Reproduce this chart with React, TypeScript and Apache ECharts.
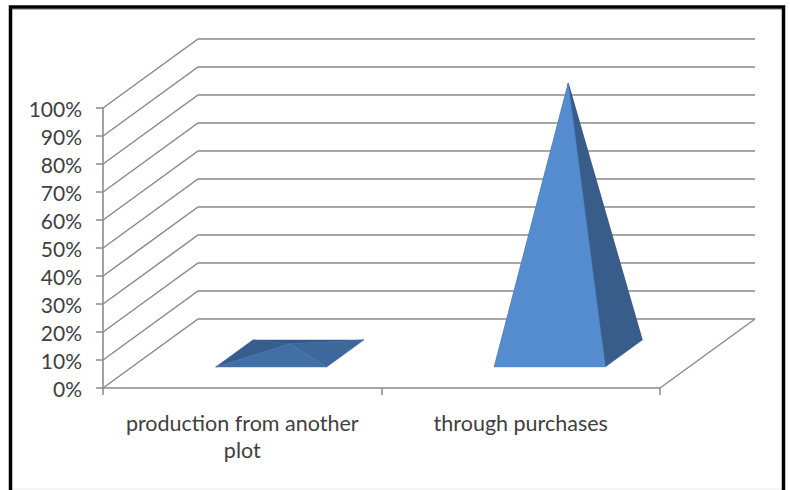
import React, { useEffect, useRef } from "react";
import * as echarts from "echarts";

// Share of each source, in percent.
const categories = ["production from another plot", "through purchases"];
const shares = [3.5, 96.5];
const yTicks = [0, 10, 20, 30, 40, 50, 60, 70, 80, 90, 100];

// Oblique projection of the floor: how far the back wall sits from the front edge.
const DEPTH_X = 95;
const DEPTH_Y = -69;
// Pyramid footprint.
const BASE_HALF_WIDTH = 55.5;
const BASE_DEPTH = 0.39;

const GRID_STROKE = "#8a8a8a";
const TEXT = "#404040";

// Face shades: back, left, right, front. The flat pyramid is lit from above.
const faceShades = [
  ["#33588a", "#365d8c", "#3e689c", "#426fa6"],
  ["#33588a", "#365d8c", "#385d8a", "#558bcf"],
];

function renderWall(params: any, api: any) {
  const v = api.value(1);
  const sys = params.coordSys;
  const y = api.coord([0, v])[1];
  const left = sys.x;
  const right = sys.x + sys.width;
  const children: any[] = [
    {
      type: "polyline",
      shape: {
        points: [
          [left, y],
          [left + DEPTH_X, y + DEPTH_Y],
          [right + DEPTH_X, y + DEPTH_Y],
        ],
      },
      style: { fill: "none", stroke: GRID_STROKE, lineWidth: 1.5 },
    },
  ];
  if (v === 0) {
    // Right-hand edge of the floor.
    children.push({
      type: "line",
      shape: { x1: right, y1: y, x2: right + DEPTH_X, y2: y + DEPTH_Y },
      style: { stroke: GRID_STROKE, lineWidth: 1.5 },
    });
  }
  return { type: "group", children };
}

function renderPyramid(params: any, api: any) {
  const idx = api.value(0);
  const [cx, floorY] = api.coord([idx, 0]);
  const topY = api.coord([idx, api.value(1)])[1];

  // Centre of the footprint lies halfway down the floor's depth.
  const midX = cx + DEPTH_X / 2;
  const midY = floorY + DEPTH_Y / 2;
  const halfDx = (DEPTH_X * BASE_DEPTH) / 2;
  const halfDy = (DEPTH_Y * BASE_DEPTH) / 2;

  const frontLeft = [midX - BASE_HALF_WIDTH - halfDx, midY - halfDy];
  const frontRight = [midX + BASE_HALF_WIDTH - halfDx, midY - halfDy];
  const backRight = [midX + BASE_HALF_WIDTH + halfDx, midY + halfDy];
  const backLeft = [midX - BASE_HALF_WIDTH + halfDx, midY + halfDy];
  const apex = [midX, midY - (floorY - topY)];

  const shades = faceShades[idx];
  const face = (a: number[], b: number[], fill: string) => ({
    type: "polygon",
    shape: { points: [a, b, apex] },
    style: { fill, stroke: fill, lineWidth: 0.5 },
  });
  return {
    type: "group",
    children: [
      face(backLeft, backRight, shades[0]),
      face(frontLeft, backLeft, shades[1]),
      face(frontRight, backRight, shades[2]),
      face(frontLeft, frontRight, shades[3]),
    ],
  };
}

export default function App() {
  const ref = useRef<HTMLDivElement>(null);

  useEffect(() => {
    const chart = echarts.init(ref.current!, null, { renderer: "svg" });
    chart.setOption({
      animation: false,
      backgroundColor: "#ffffff",
      textStyle: { fontFamily: "Lato" },
      grid: { left: 103, top: 108, width: 557, height: 280 },
      xAxis: {
        type: "category",
        data: categories,
        boundaryGap: true,
        axisLine: { lineStyle: { color: GRID_STROKE, width: 1.5 } },
        axisTick: { show: true, length: 7, alignWithLabel: false, lineStyle: { color: GRID_STROKE, width: 1.5 } },
        axisLabel: {
          interval: 0,
          color: TEXT,
          fontFamily: "Lato",
          fontSize: 21.5,
          lineHeight: 27,
          margin: 21,
          // The long category sets its last word on a second line.
          formatter: (name: string) => name.replace(/ plot$/, "\nplot"),
        },
        splitLine: { show: false },
      },
      yAxis: {
        type: "value",
        min: 0,
        max: 100,
        interval: 10,
        axisLine: { show: true, lineStyle: { color: "#a3a3a3", width: 2 } },
        axisTick: { show: true, length: 7, lineStyle: { color: GRID_STROKE, width: 1.5 } },
        axisLabel: {
          color: TEXT,
          fontFamily: "Lato",
          fontSize: 21,
          margin: 21,
          padding: [3, 0, 0, 0],
          formatter: "{value}%",
        },
        splitLine: { show: false },
      },
      series: [
        {
          type: "custom",
          name: "walls",
          silent: true,
          z: 1,
          clip: false,
          data: yTicks.map((v) => [0, v]),
          encode: { x: 0, y: 1 },
          renderItem: renderWall,
        },
        {
          type: "custom",
          name: "share",
          silent: true,
          z: 3,
          clip: false,
          data: shares.map((v, i) => [i, v]),
          encode: { x: 0, y: 1 },
          renderItem: renderPyramid,
        },
      ],
      graphic: [
        {
          type: "polyline",
          silent: true,
          z: 10,
          shape: {
            points: [
              [10.5, 490],
              [10.5, 7],
              [783.5, 7],
              [783.5, 490],
            ],
          },
          style: { fill: "none", stroke: "#000000", lineWidth: 3.5 },
        },
        {
          type: "line",
          silent: true,
          z: 9,
          shape: { x1: 12, y1: 9.5, x2: 782, y2: 9.5 },
          style: { stroke: "#b5b5b5", lineWidth: 1 },
        },
        {
          type: "line",
          silent: true,
          z: 9,
          shape: { x1: 12, y1: 489, x2: 782, y2: 489 },
          style: { stroke: "#ececec", lineWidth: 1 },
        },
      ],
    });
    return () => chart.dispose();
  }, []);

  return <div ref={ref} style={{ position: "fixed", left: 0, top: 0, width: 790, height: 490 }} />;
}
